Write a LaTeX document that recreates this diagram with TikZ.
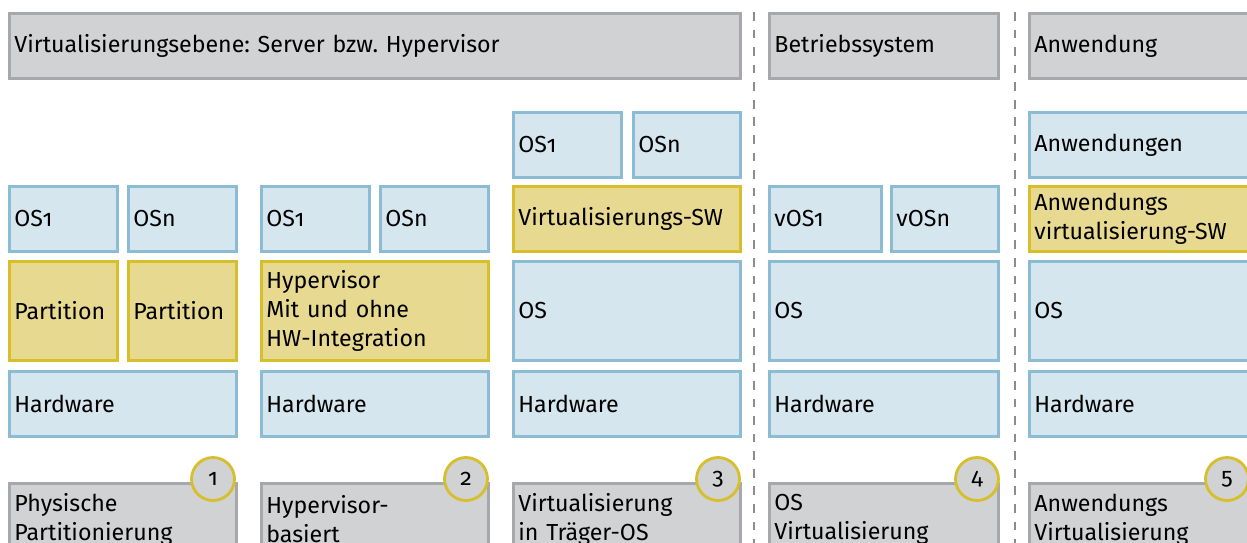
\documentclass[tikz,border=0pt]{standalone}
\usepackage{fontspec}
\setmainfont{Fira Sans}[Numbers=OldStyle]
\usepackage{tikz}
\frenchspacing

\definecolor{blaufill}{RGB}{214,230,239}
\definecolor{blaurand}{RGB}{139,188,211}
\definecolor{gelbfill}{RGB}{232,217,145}
\definecolor{gelbrand}{RGB}{215,191,43}
\definecolor{graufill}{RGB}{209,210,212}
\definecolor{graurand}{RGB}{166,168,171}
\definecolor{strich}{RGB}{138,140,142}

\tikzstyle{box}=[line width=1.6pt, inner xsep=0.1cm, inner ysep=0, align=left, font=\fontsize{13.2}{16.5}\selectfont]
\tikzstyle{blau}=[box, draw=blaurand, fill=blaufill]
\tikzstyle{gelb}=[box, draw=gelbrand, fill=gelbfill]
\tikzstyle{grau}=[box, draw=graurand, fill=graufill]
\tikzstyle{kreis}=[circle, minimum size=0.86cm, inner sep=0, line width=1.6pt, draw=gelbrand, fill=graufill, font=\fontsize{13.2}{16.5}\selectfont]
\tikzstyle{trenner}=[strich, line width=1.2pt, dash pattern=on 5pt off 5pt]

% #1 style, #2 name, #3 x, #4 y, #5 width, #6 height, #7 text (pixels)
\newcommand{\kasten}[7]{
  \pgfmathsetmacro\breite{#5*0.02}
  \pgfmathsetmacro\textbreite{(#5-10)*0.02}
  \pgfmathsetmacro\hoehe{#6*0.02}
  \node[#1, anchor=north west, minimum width=\breite cm, minimum height=\hoehe cm,
        text width=\textbreite cm] (#2) at (#3,#4) {#7};
}

\begin{document}
\begin{tikzpicture}[x=0.02cm, y=-0.02cm]
\fill[white] (0,0) rectangle (1247,543);
\useasboundingbox (0,0) rectangle (1247,543);
\clip (0,0) rectangle (1247,543);

% Ebenen oben
\kasten{grau}{ebene}{8}{12}{731}{65}{Virtualisierungsebene: Server bzw. Hypervisor}
\kasten{grau}{bs}{768}{12}{229}{65}{Betriebssystem}
\kasten{grau}{anw}{1028}{12}{240}{65}{Anwendung}

% Trennlinien
\draw[trenner] (754,12) -- (754,543);
\draw[trenner] (1015,12) -- (1015,543);

% Spalte 1: physische Partitionierung
\kasten{blau}{os1a}{8}{185}{108}{65}{OS1}
\kasten{blau}{osna}{127}{185}{108}{65}{OSn}
\kasten{gelb}{parta}{8}{260}{108}{99}{Partition}
\kasten{gelb}{partb}{127}{260}{108}{99}{Partition}

% Spalte 2: Hypervisor
\kasten{blau}{os1b}{260}{185}{108}{65}{OS1}
\kasten{blau}{osnb}{379}{185}{108}{65}{OSn}
\kasten{gelb}{hyp}{260}{260}{227}{99}{Hypervisor\\Mit und ohne\\HW-Integration}

% Spalte 3: Traeger-OS
\kasten{blau}{os1c}{512}{111}{108}{65}{OS1}
\kasten{blau}{osnc}{632}{111}{107}{65}{OSn}
\kasten{gelb}{vsw}{512}{185}{227}{65}{Virtualisierungs-SW}
\kasten{blau}{osc}{512}{260}{227}{99}{OS}

% Spalte 4: OS-Virtualisierung
\kasten{blau}{vos1}{768}{185}{112}{65}{vOS1}
\kasten{blau}{vosn}{890}{185}{107}{65}{vOSn}
\kasten{blau}{osd}{768}{260}{229}{99}{OS}

% Spalte 5: Anwendungsvirtualisierung
\kasten{blau}{anwn}{1028}{111}{240}{65}{Anwendungen}
\kasten{gelb}{asw}{1028}{185}{240}{65}{Anwendungs\\virtualisierung-SW}
\kasten{blau}{ose}{1028}{260}{240}{99}{OS}

% Hardware
\foreach \x/\w/\n in {8/227/1,260/227/2,512/227/3,768/229/4,1028/240/5}
  \kasten{blau}{hw\n}{\x}{370}{\w}{65}{Hardware};

% Bezeichnungen unten
\kasten{grau}{art1}{8}{482}{227}{72}{Physische\\Partitionierung}
\kasten{grau}{art2}{260}{482}{227}{72}{Hypervisor-\\basiert}
\kasten{grau}{art3}{512}{482}{227}{72}{Virtualisierung\\in Träger-OS}
\kasten{grau}{art4}{768}{482}{229}{72}{OS\\Virtualisierung}
\kasten{grau}{art5}{1028}{482}{240}{72}{Anwendungs\\Virtualisierung}

% Nummern
\foreach \x/\n in {213/1,466/2,718/3,977/4,1227/5}
  \node[kreis] (nr\n) at (\x,479) {\n};
\end{tikzpicture}
\end{document}
